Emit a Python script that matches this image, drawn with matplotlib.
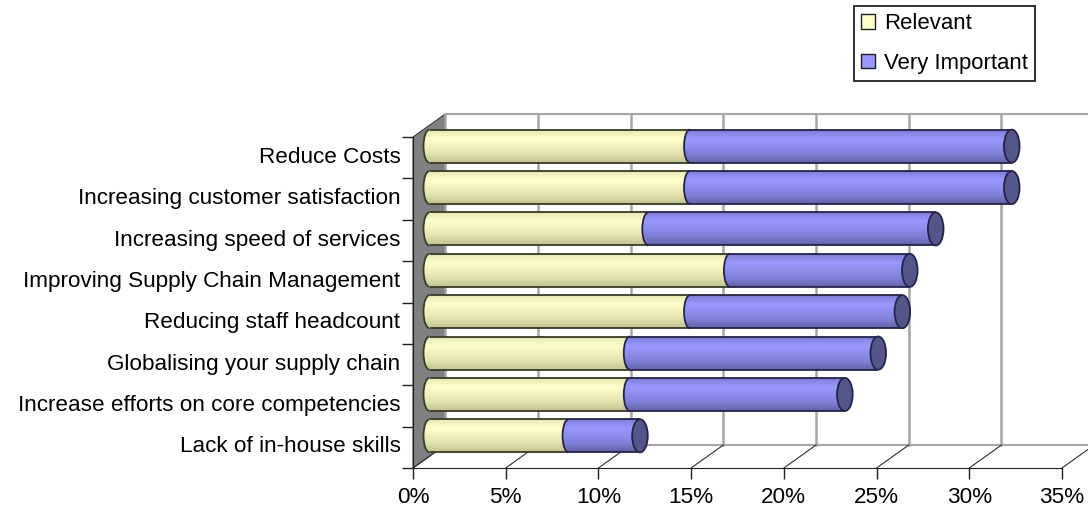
import numpy as np
from matplotlib import pyplot as plt
from matplotlib.patches import Ellipse, Arc, Polygon, Rectangle

plt.rcParams['font.family'] = ['Liberation Sans', 'DejaVu Sans']

categories = ['Reduce Costs', 'Increasing customer satisfaction', 'Increasing speed of services',
              'Improving Supply Chain Management', 'Reducing staff headcount',
              'Globalising your supply chain', 'Increase efforts on core competencies',
              'Lack of in-house skills']
relevant = [14.05, 14.05, 11.8, 16.2, 14.05, 10.8, 10.8, 7.5]
very_important = [17.35, 17.35, 15.5, 9.7, 11.45, 13.4, 11.6, 3.85]
xticks = [0, 5, 10, 15, 20, 25, 30, 35]

W, H = 1088, 507
fs = 16.2
fig = plt.figure(figsize=(W / 100, H / 100), dpi=100)
ax = fig.add_axes([413 / W, 1 - 468 / H, 649 / W, 331 / H])
ax.set_facecolor('none')

# depth of the fake 3d box, in data units
dx = 32.2 / 18.54
dy = 23 / 41.4
n = len(categories)
grey = '#a6a6a6'

# back wall and floor
ax.add_patch(Polygon([(0, 0), (dx, -dy), (dx, n - dy), (0, n)], closed=True,
                     facecolor='#808080', edgecolor='#404040', lw=0.8, clip_on=False, zorder=1))
ax.plot([dx, 40], [-dy, -dy], color=grey, lw=1.5, clip_on=False, zorder=1)
ax.plot([dx, 40], [n - dy, n - dy], color=grey, lw=1.5, clip_on=False, zorder=1)
for v in xticks:
    ax.plot([v + dx, v + dx], [-dy, n - dy], color=grey, lw=1.8, clip_on=False, zorder=1)
    ax.plot([v, v + dx], [n, n - dy], color='#303030', lw=0.8, clip_on=False, zorder=1)


def gradient(colors):
    stops = [0, 0.08, 0.3, 0.75, 1]
    return np.array([[np.interp(t, stops, [c[k] for c in colors]) for k in range(3)]
                     for t in np.linspace(0, 1, 64)])[:, None, :]


yellow = gradient([(.80, .80, .62), (.93, .93, .74), (1, 1, .80), (.88, .88, .68), (.76, .76, .58)])
blue = gradient([(.40, .40, .72), (.52, .52, .88), (.60, .60, 1), (.50, .50, .84), (.38, .38, .66)])
edge_y = '#3a3a28'
edge_b = '#24244a'

cap_w = 12 / 18.54
bar_h = 0.8
for i in range(n):
    yc = i + 0.5 - 0.278
    x0 = 0.89
    x1 = x0 + relevant[i]
    x2 = x1 + very_important[i]
    top, bot = yc - bar_h / 2, yc + bar_h / 2
    z = 3 + i * 0.1

    for left, right, img, edge in [(x0, x1, yellow, edge_y), (x1, x2, blue, edge_b)]:
        body = Rectangle((left, top), right - left, bar_h, transform=ax.transData)
        cap = Ellipse((left, yc), cap_w, bar_h, transform=ax.transData)
        for clip in (body, cap):
            im = ax.imshow(img, extent=(left - cap_w, right, bot, top), aspect='auto', zorder=z)
            im.set_clip_path(clip)
            if clip is cap:
                im.set_clip_box(fig.bbox)
        ax.hlines([top, bot], left, right, color=edge, lw=1.3, zorder=z + 0.01, clip_on=False)
        ax.add_patch(Arc((left, yc), cap_w, bar_h, theta1=90, theta2=270, color=edge, lw=1.3,
                         zorder=z + 0.01, clip_on=False))
    ax.add_patch(Ellipse((x2, yc), cap_w * 1.3, bar_h, facecolor='#55558a', edgecolor=edge_b, lw=1.3,
                         zorder=z + 0.02, clip_on=False))

ax.set_xlim(0, 35)
ax.set_ylim(8, 0)

ax.set_xticks(xticks)
ax.set_xticklabels([f'{v}%' for v in xticks], fontsize=fs)
ax.set_yticks(np.arange(n + 1))
ax.set_yticklabels([])
ax.set_yticks(np.arange(n) + 0.43, labels=categories, minor=True, fontsize=fs)
ax.tick_params(axis='y', which='minor', length=0, pad=9)
ax.tick_params(axis='y', which='major', length=8, width=1, color='#202020')
ax.tick_params(axis='x', length=8, width=1, color='#202020', pad=6)
for s in ['top', 'right']:
    ax.spines[s].set_visible(False)
for s in ['left', 'bottom']:
    ax.spines[s].set_color('#202020')
    ax.spines[s].set_zorder(2)

handles = [Rectangle((0, 0), 1, 1, facecolor='#ffffcc', edgecolor='#202020'),
           Rectangle((0, 0), 1, 1, facecolor='#9999ff', edgecolor='#202020')]
leg = fig.legend(handles, ['Relevant', 'Very Important'], loc='upper left',
                 bbox_to_anchor=(854 / W, 1 - 6 / H), bbox_transform=fig.transFigure,
                 fontsize=15.9, fancybox=False, framealpha=1, edgecolor='#202020',
                 handlelength=0.62, handleheight=0.62, handletextpad=0.4, labelspacing=0.85,
                 borderaxespad=0, borderpad=0.33)
leg.get_frame().set_linewidth(1.3)

fig.savefig('out.png', dpi=100)
